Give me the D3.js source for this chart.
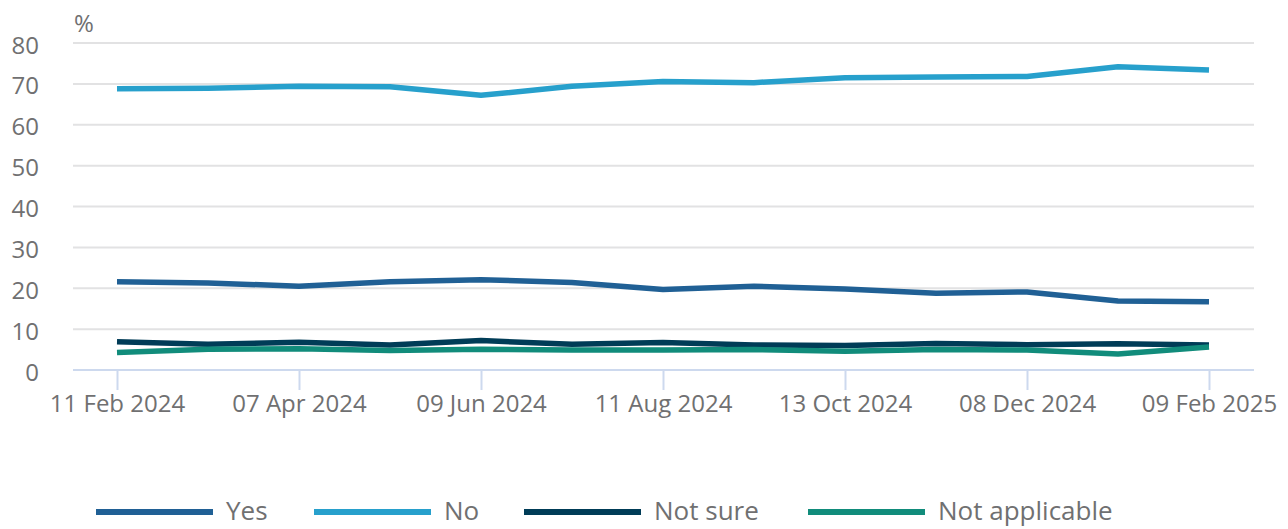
<!DOCTYPE html>
<html>
<head>
<meta charset="utf-8">
<script src="https://cdn.jsdelivr.net/npm/d3@7"></script>
<style>
  body { margin: 0; background: #fff; font-family: "Open Sans", sans-serif; }
  svg text { fill: #707071; }
</style>
</head>
<body>
<svg id="chart" width="1288" height="529"></svg>
<script>
"use strict";

const dates = ["11 Feb 2024", "10 Mar 2024", "07 Apr 2024", "05 May 2024", "09 Jun 2024",
    "07 Jul 2024", "11 Aug 2024", "08 Sep 2024", "13 Oct 2024", "10 Nov 2024",
    "08 Dec 2024", "12 Jan 2025", "09 Feb 2025"];
const tickDates = ["11 Feb 2024", "07 Apr 2024", "09 Jun 2024", "11 Aug 2024",
    "13 Oct 2024", "08 Dec 2024", "09 Feb 2025"];
const yTicks = [0, 10, 20, 30, 40, 50, 60, 70, 80];

const yesValues = [21.6, 21.3, 20.5, 21.6, 22.1, 21.4, 19.7, 20.5, 19.8, 18.8, 19.1, 16.9, 16.7];
const noValues = [68.8, 68.9, 69.4, 69.3, 67.2, 69.4, 70.6, 70.3, 71.5, 71.7, 71.8, 74.2, 73.4];
const notSureValues = [6.9, 6.3, 6.8, 6.1, 7.2, 6.3, 6.7, 6.1, 6.0, 6.5, 6.2, 6.4, 6.1];
const notApplicableValues = [4.3, 5.1, 5.2, 4.8, 5.1, 4.9, 4.9, 5.0, 4.6, 5.0, 4.9, 3.9, 5.6];

const seriesNames = ["Yes", "No", "Not sure", "Not applicable"];
const seriesColors = ["#206095", "#27a0cc", "#003c57", "#118c7b"];

const series = [
    {name: seriesNames[0], values: yesValues, color: seriesColors[0]},
    {name: seriesNames[1], values: noValues, color: seriesColors[1]},
    {name: seriesNames[2], values: notSureValues, color: seriesColors[2]},
    {name: seriesNames[3], values: notApplicableValues, color: seriesColors[3]},
];

const svg = d3.select("#chart");
const FONT_SIZE = 24;
const plotLeft = 73, plotRight = 1254;

const x = d3.scalePoint()
    .domain(dates)
    .range([117, 1209]);
const y = d3.scaleLinear()
    .domain([0, 80])
    .range([370, 43]);

// gridlines
svg.append("g")
    .selectAll("line")
    .data(yTicks.filter(d => d > 0))
    .join("line")
    .attr("x1", plotLeft)
    .attr("x2", plotRight)
    .attr("y1", d => y(d))
    .attr("y2", d => y(d))
    .attr("stroke", "#e2e2e3")
    .attr("stroke-width", 2);

// y labels
svg.append("g")
    .selectAll("text")
    .data(yTicks)
    .join("text")
    .attr("x", 39)
    .attr("y", d => y(d) + 1)
    .attr("text-anchor", "end")
    .attr("dominant-baseline", "central")
    .attr("font-size", FONT_SIZE)
    .text(d => d);

svg.append("text")
    .attr("x", 74)
    .attr("y", 32)
    .attr("font-size", FONT_SIZE)
    .text("%");

// x axis
const xAxis = svg.append("g")
    .attr("transform", `translate(0,${y(0)})`)
    .call(d3.axisBottom(x).tickValues(tickDates).tickSize(20).tickPadding(5).tickSizeOuter(0));
xAxis.select(".domain").remove();
xAxis.append("line")
    .attr("x1", plotLeft)
    .attr("x2", plotRight)
    .attr("stroke", "#cdd9ee")
    .attr("stroke-width", 2);
xAxis.selectAll(".tick line")
    .attr("stroke", "#cdd9ee")
    .attr("stroke-width", 2);
xAxis.selectAll(".tick text")
    .attr("font-family", "Open Sans, sans-serif")
    .attr("font-size", FONT_SIZE)
    .attr("fill", "#707071");

// lines
const line = d3.line()
    .x((d, i) => x(dates[i]))
    .y(d => y(d));

svg.append("g")
    .selectAll("path")
    .data(series)
    .join("path")
    .attr("d", d => line(d.values))
    .attr("fill", "none")
    .attr("stroke", d => d.color)
    .attr("stroke-width", 5.5)
    .attr("stroke-linejoin", "round");

// legend
const legendX = [96, 314, 524, 808];
const legend = svg.append("g")
    .selectAll("g")
    .data(series)
    .join("g")
    .attr("transform", (d, i) => `translate(${legendX[i]},510)`);
legend.append("line")
    .attr("x1", 0)
    .attr("x2", 117)
    .attr("y1", 2)
    .attr("y2", 2)
    .attr("stroke", d => d.color)
    .attr("stroke-width", 6);
legend.append("text")
    .attr("x", 130)
    .attr("y", 0)
    .attr("dominant-baseline", "central")
    .attr("font-size", 26)
    .text(d => d.name);
</script>
</body>
</html>
